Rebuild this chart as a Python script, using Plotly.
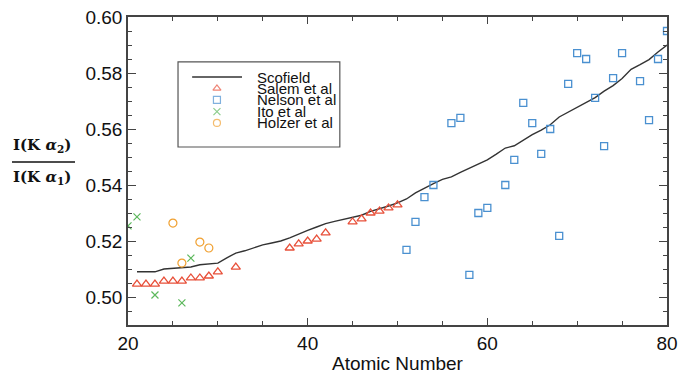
import plotly.graph_objects as go

# ---- data ----
scofield_z = list(range(21, 81))
scofield_r = [0.509, 0.509, 0.509, 0.510, 0.5102, 0.5105, 0.5107, 0.5115, 0.5118, 0.5121,
              0.514, 0.5157, 0.5165, 0.5175, 0.5186, 0.5193, 0.520, 0.5211, 0.5225, 0.5238,
              0.525, 0.5262, 0.527, 0.5277, 0.5284, 0.5292, 0.5306, 0.5315, 0.5325, 0.5336,
              0.535, 0.5372, 0.539, 0.5405, 0.542, 0.5429, 0.5445, 0.546, 0.5475, 0.549,
              0.551, 0.5532, 0.554, 0.556, 0.558, 0.5596, 0.5615, 0.5643, 0.566, 0.568,
              0.5695, 0.5712, 0.5735, 0.5755, 0.578, 0.5813, 0.583, 0.5848, 0.5875, 0.590]

salem_z = [21, 22, 23, 24, 25, 26, 27, 28, 29, 30, 32, 38, 39, 40, 41, 42, 45, 46, 47, 48, 49, 50]
salem_r = [0.5046, 0.5046, 0.5046, 0.5057, 0.5057, 0.5057, 0.5068, 0.5068, 0.5075, 0.509, 0.5107,
           0.5175, 0.519, 0.520, 0.5207, 0.5229, 0.5268, 0.5279, 0.530, 0.5307, 0.5318, 0.5329]

nelson_z = [51, 52, 53, 54, 56, 57, 58, 59, 60, 62, 63, 64, 65, 66, 67, 68, 69, 70, 71, 72,
            73, 74, 75, 77, 78, 79, 80]
nelson_r = [0.5168, 0.5268, 0.5357, 0.540, 0.5621, 0.564, 0.5079, 0.530, 0.5318, 0.540, 0.549,
            0.5693, 0.5621, 0.5511, 0.560, 0.5218, 0.5761, 0.5871, 0.585, 0.5711, 0.5539,
            0.5782, 0.5871, 0.5771, 0.5632, 0.585, 0.595]

ito_z = [20, 21, 23, 26, 27]
ito_r = [0.5254, 0.5286, 0.5007, 0.4979, 0.5139]

holzer_z = [25, 26, 28, 29]
holzer_r = [0.5264, 0.5121, 0.5196, 0.5175]

legend_names = ["Scofield", "Salem et al", "Nelson et al", "Ito et al", "Holzer et al"]

# ---- styles ----
C_LINE = "#333333"
C_SALEM = "#e8503a"
C_NELSON = "#4a90d0"
C_ITO = "#5cb85c"
C_HOLZER = "#f0a030"
AX = "#444444"
SANS = "Liberation Sans, Arial"

fig = go.Figure()
fig.add_trace(go.Scatter(x=scofield_z, y=scofield_r, mode="lines",
                         line=dict(color=C_LINE, width=1.4), showlegend=False))
fig.add_trace(go.Scatter(x=salem_z, y=salem_r, mode="markers", showlegend=False,
                         marker=dict(symbol="triangle-up-open", size=8, color=C_SALEM,
                                     line=dict(width=1.3, color=C_SALEM))))
fig.add_trace(go.Scatter(x=nelson_z, y=nelson_r, mode="markers", showlegend=False,
                         marker=dict(symbol="square-open", size=7, color=C_NELSON,
                                     line=dict(width=1.3, color=C_NELSON))))
fig.add_trace(go.Scatter(x=ito_z, y=ito_r, mode="markers", showlegend=False,
                         marker=dict(symbol="x-thin-open", size=7, color=C_ITO,
                                     line=dict(width=1.2, color=C_ITO))))
fig.add_trace(go.Scatter(x=holzer_z, y=holzer_r, mode="markers", showlegend=False,
                         marker=dict(symbol="circle-open", size=8, color=C_HOLZER,
                                     line=dict(width=1.2, color=C_HOLZER))))

# ---- custom legend (paper fractions of the plot area) ----
leg_rows = [0.805, 0.768, 0.731, 0.693, 0.656]
leg_mx = 0.165
leg_tx = 0.2356
fig.add_trace(go.Scatter(x=[leg_mx] * 4, y=leg_rows[1:], mode="markers", showlegend=False,
                         xaxis="x2", yaxis="y2", hoverinfo="skip",
                         marker=dict(symbol=["triangle-up-open", "square-open", "x-thin-open", "circle-open"],
                                     size=[7, 7, 7, 7],
                                     color=[C_SALEM, C_NELSON, C_ITO, C_HOLZER],
                                     line=dict(width=1.2, color=[C_SALEM, C_NELSON, C_ITO, C_HOLZER]))))

shapes = [
    dict(type="rect", xref="paper", yref="paper", x0=0.0928, x1=0.393, y0=0.578, y1=0.854,
         line=dict(color="#555555", width=1.2), fillcolor="rgba(255,255,255,0)", layer="above"),
    dict(type="line", xref="paper", yref="paper", x0=0.119, x1=0.2115, y0=leg_rows[0], y1=leg_rows[0],
         line=dict(color=C_LINE, width=1.4)),
    # fraction bar of y title
    dict(type="line", xref="paper", yref="paper", x0=-0.2152, x1=-0.0983, y0=0.5292, y1=0.5292,
         line=dict(color="#111111", width=1.3)),
]

annotations = []
for name, yy in zip(legend_names, leg_rows):
    annotations.append(dict(text=name, x=leg_tx, y=yy, xref="paper", yref="paper",
                            xanchor="left", yanchor="middle", showarrow=False,
                            font=dict(family=SANS, size=15, color="#111111")))
annotations.append(dict(text="<b>I(K <i>α</i><sub>2</sub>)</b>", x=-0.1596, y=0.5844,
                        xref="paper", yref="paper", xanchor="center", yanchor="middle",
                        showarrow=False, font=dict(family="DejaVu Serif", size=15, color="#111111")))
annotations.append(dict(text="<b>I(K <i>α</i><sub>1</sub>)</b>", x=-0.1596, y=0.4805,
                        xref="paper", yref="paper", xanchor="center", yanchor="middle",
                        showarrow=False, font=dict(family="DejaVu Serif", size=15, color="#111111")))
annotations.append(dict(text="Atomic Number", x=0.5, y=-0.124, xref="paper", yref="paper",
                        xanchor="center", yanchor="middle", showarrow=False,
                        font=dict(family=SANS, size=19, color="#111111")))

tickfont = dict(family=SANS, size=19, color="#111111")
fig.update_layout(
    width=679, height=374,
    margin=dict(l=128, r=12, t=17, b=49, autoexpand=False),
    paper_bgcolor="white", plot_bgcolor="white",
    showlegend=False,
    shapes=shapes, annotations=annotations,
    xaxis=dict(range=[20, 80], dtick=20, tick0=20, ticks="inside", ticklen=7, tickwidth=1.3,
               tickcolor=AX, showline=True, linecolor=AX, linewidth=1.5, mirror="ticks",
               showgrid=False, zeroline=False, tickfont=tickfont, automargin=False,
               minor=dict(dtick=5, ticks="inside", ticklen=4, tickcolor=AX, showgrid=False)),
    yaxis=dict(range=[0.49, 0.60], dtick=0.02, tick0=0.5, tickformat=".2f", ticks="inside",
               ticklen=8, tickwidth=1.3, tickcolor=AX, showline=True, linecolor=AX, linewidth=1.5,
               mirror="ticks", showgrid=False, zeroline=False, tickfont=tickfont, automargin=False,
               minor=dict(dtick=0.005, ticks="inside", ticklen=4, tickcolor=AX, showgrid=False)),
    xaxis2=dict(overlaying="x", range=[0, 1], visible=False, fixedrange=True),
    yaxis2=dict(overlaying="y", range=[0, 1], visible=False, fixedrange=True),
)

fig.write_html("out.html")
